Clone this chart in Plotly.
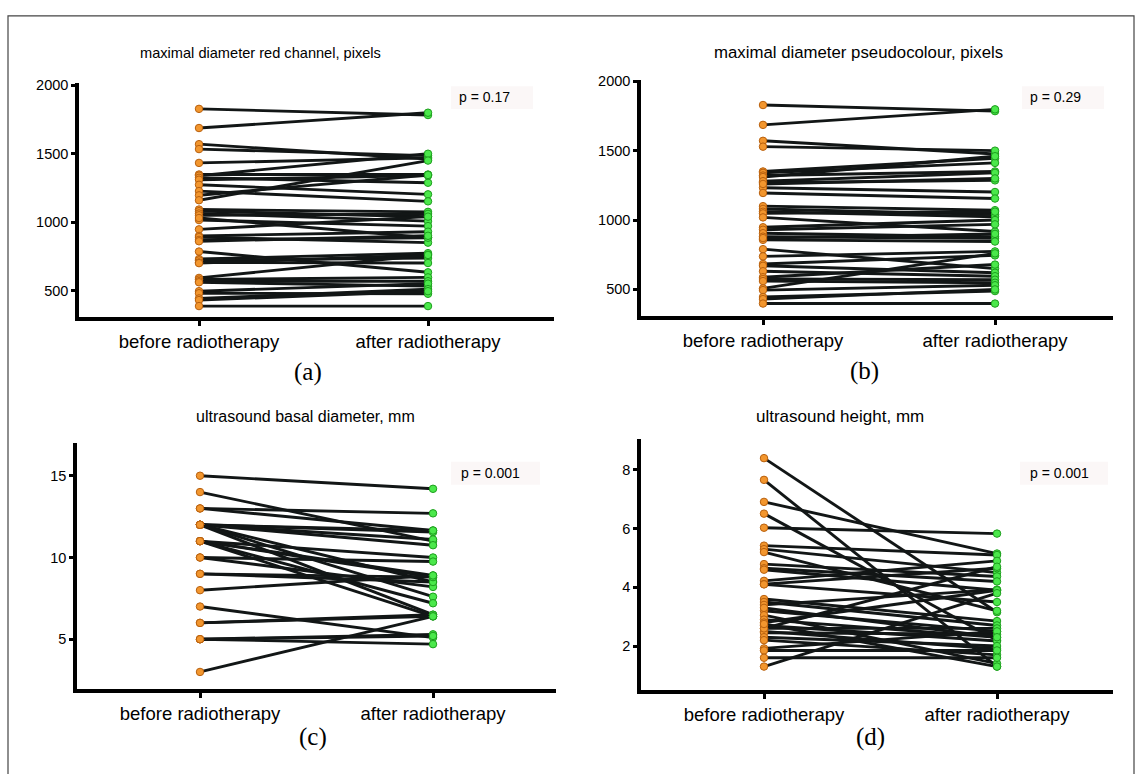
import plotly.graph_objects as go

W, H = 1142, 774

categories = ["before radiotherapy", "after radiotherapy"]

# (a) maximal diameter red channel, pixels
a_before = [1828, 1688, 1570, 1534, 1433, 1348, 1340, 1324, 1310, 1273, 1227, 1196, 1160,
            1092, 1080, 1063, 1050, 1015, 1030, 947, 899, 890, 870, 860, 785, 730, 720,
            705, 700, 592, 580, 568, 560, 495, 480, 442, 430, 386]
a_after = [1783, 1800, 1462, 1486, 1470, 1348, 1500, 1288, 1340, 1203, 1152, 1345, 1450,
           1075, 1039, 1007, 1060, 971, 886, 1040, 930, 850, 886, 900, 633, 773, 737,
           701, 760, 760, 596, 568, 532, 550, 476, 510, 495, 386]
a_ticks = [500, 1000, 1500, 2000]

# (b) maximal diameter pseudocolour, pixels
b_before = [1829, 1686, 1571, 1529, 1350, 1340, 1321, 1310, 1269, 1280, 1233, 1195, 1260,
            1100, 1080, 1060, 1048, 1019, 948, 930, 905, 880, 857, 870, 790, 738, 683,
            670, 631, 588, 575, 560, 507, 495, 445, 430, 398]
b_after = [1785, 1798, 1476, 1500, 1445, 1412, 1350, 1460, 1286, 1340, 1202, 1155, 1300,
           1071, 1040, 1024, 1060, 917, 1000, 969, 880, 869, 845, 900, 650, 774, 745,
           620, 595, 679, 570, 548, 760, 530, 488, 500, 398]
b_ticks = [500, 1000, 1500, 2000]

# (c) ultrasound basal diameter, mm
c_before = [15, 14, 13, 13, 12, 12, 12, 12, 12, 12, 12, 11, 11, 11, 11, 11, 10, 10, 9, 9,
            8, 7, 6, 6, 5, 5, 5, 3]
c_after = [14.2, 11.0, 12.7, 11.65, 11.55, 11.65, 11.1, 10.75, 8.5, 6.5, 7.6, 10.0, 8.9,
           8.8, 7.2, 6.4, 9.75, 8.2, 8.5, 8.8, 8.9, 5.1, 6.5, 6.4, 5.3, 4.7, 5.2, 6.4]
c_ticks = [5, 10, 15]

# (d) ultrasound height, mm
d_before = [8.4, 7.66, 6.91, 6.51, 6.03, 5.42, 5.3, 5.2, 4.79, 4.65, 4.6, 4.22, 4.11, 3.6,
            3.5, 3.4, 3.2, 3.05, 2.9, 2.8, 2.7, 2.6, 2.5, 2.45, 2.3, 2.2, 1.92, 1.85, 1.6,
            1.3, 2.6, 3.3, 2.75, 4.1]
d_after = [3.15, 1.3, 5.15, 2.2, 5.83, 5.1, 4.5, 3.2, 4.37, 4.2, 3.9, 4.9, 4.65, 2.85,
           2.7, 3.92, 2.5, 1.4, 2.3, 3.9, 2.17, 2.6, 1.9, 2.4, 2.0, 1.7, 2.5, 1.85, 1.6,
           3.8, 4.7, 2.3, 1.3, 3.5]
d_ticks = [2, 4, 6, 8]

titles = ["maximal diameter red channel, pixels", "maximal diameter pseudocolour, pixels",
          "ultrasound basal diameter, mm", "ultrasound height, mm"]
p_values = ["p = 0.17", "p = 0.29", "p = 0.001", "p = 0.001"]
letters = ["(a)", "(b)", "(c)", "(d)"]

panels = [
    dict(before=a_before, after=a_after, ticks=a_ticks, yr=[305, 2015],
         xl=79, xr=554, yt=77, yb=313, c0=199, c1=428,
         title_xy=(260, 46), title_fs=14.6, p_xy=(457, 91), box=(451, 80, 533, 103),
         let_xy=(308, 368)),
    dict(before=b_before, after=b_after, ticks=b_ticks, yr=[307, 2007],
         xl=641, xr=1113, yt=74, yb=312, c0=763, c1=995,
         title_xy=(858, 46), title_fs=16.8, p_xy=(1028, 91), box=(1022, 80, 1104, 103),
         let_xy=(864, 367)),
    dict(before=c_before, after=c_after, ticks=c_ticks, yr=[1.97, 17.0],
         xl=77, xr=556, yt=440, yb=688, c0=200, c1=433,
         title_xy=(305, 413), title_fs=16, p_xy=(459, 470), box=(451, 459, 540, 482),
         let_xy=(313, 737)),
    dict(before=d_before, after=d_after, ticks=d_ticks, yr=[0.51, 9.05],
         xl=641, xr=1113, yt=436, yb=689, c0=764, c1=997,
         title_xy=(840, 413), title_fs=17, p_xy=(1028, 470), box=(1020, 459, 1108, 482),
         let_xy=(870, 737)),
]

fig = go.Figure()
layout = dict(width=W, height=H, margin=dict(l=0, r=0, t=0, b=0),
              paper_bgcolor="white", plot_bgcolor="white", showlegend=False,
              font=dict(family="Liberation Sans, Arial, sans-serif", color="black"))
annotations = []
shapes = []

for i, p in enumerate(panels):
    n = i + 1
    xa = "x" if n == 1 else f"x{n}"
    ya = "y" if n == 1 else f"y{n}"
    unit = p["c1"] - p["c0"]
    xrange = [-(p["c0"] - p["xl"]) / unit, 1 + (p["xr"] - p["c1"]) / unit]

    lx, ly = [], []
    for b, a in zip(p["before"], p["after"]):
        lx += [0, 1, None]
        ly += [b, a, None]
    fig.add_trace(go.Scatter(x=lx, y=ly, mode="lines", xaxis=xa, yaxis=ya,
                             line=dict(color="#121616", width=2.9), hoverinfo="skip"))
    fig.add_trace(go.Scatter(x=[0] * len(p["before"]), y=p["before"], mode="markers",
                             xaxis=xa, yaxis=ya,
                             marker=dict(size=7.5, color="#f2962e",
                                         line=dict(color="#b8600e", width=1))))
    fig.add_trace(go.Scatter(x=[1] * len(p["after"]), y=p["after"], mode="markers",
                             xaxis=xa, yaxis=ya,
                             marker=dict(size=7.5, color="#4be84b",
                                         line=dict(color="#1d9e1d", width=1))))

    xkey = "xaxis" if n == 1 else f"xaxis{n}"
    ykey = "yaxis" if n == 1 else f"yaxis{n}"
    layout[xkey] = dict(domain=[p["xl"] / W, p["xr"] / W], range=xrange, anchor=ya,
                        tickvals=[0, 1], ticktext=categories, ticks="outside",
                        ticklen=5, tickwidth=3, tickcolor="black",
                        showline=True, linewidth=3.5, linecolor="black",
                        showgrid=False, zeroline=False, fixedrange=True,
                        tickfont=dict(size=18.5, color="black"))
    layout[ykey] = dict(domain=[1 - p["yb"] / H, 1 - p["yt"] / H], range=p["yr"],
                        anchor=xa, tickvals=p["ticks"], ticks="outside",
                        ticklen=4, tickwidth=3, tickcolor="black",
                        showline=True, linewidth=3.5, linecolor="black",
                        showgrid=False, zeroline=False, fixedrange=True,
                        tickfont=dict(size=14.5, color="black"))

    tx, ty = p["title_xy"]
    annotations.append(dict(x=tx / W, y=1 - ty / H, xref="paper", yref="paper",
                            text=titles[i], showarrow=False, xanchor="center",
                            yanchor="middle", font=dict(size=p["title_fs"], color="black")))
    bx0, by0, bx1, by1 = p["box"]
    shapes.append(dict(type="rect", xref="paper", yref="paper", x0=bx0 / W, x1=bx1 / W,
                       y0=1 - by1 / H, y1=1 - by0 / H, fillcolor="#fbf7f7",
                       line=dict(width=0), layer="below"))
    px_, py_ = p["p_xy"]
    annotations.append(dict(x=px_ / W, y=1 - py_ / H, xref="paper", yref="paper",
                            text=p_values[i], showarrow=False, xanchor="left",
                            yanchor="middle", font=dict(size=14, color="black")))
    lx_, ly_ = p["let_xy"]
    annotations.append(dict(x=lx_ / W, y=1 - ly_ / H, xref="paper", yref="paper",
                            text=letters[i], showarrow=False, xanchor="center",
                            yanchor="middle",
                            font=dict(size=25, color="black",
                                      family="Liberation Serif, Times New Roman, serif")))

shapes.append(dict(type="rect", xref="paper", yref="paper", x0=8 / W, x1=1134 / W,
                   y0=-0.05, y1=1 - 9 / H, line=dict(color="#444444", width=1.2),
                   fillcolor="rgba(0,0,0,0)"))

layout["annotations"] = annotations
layout["shapes"] = shapes
fig.update_layout(**layout)
fig.write_html("out.html", config={"displayModeBar": False},
               post_script="document.body.style.margin='0';document.body.style.overflow='hidden';")
